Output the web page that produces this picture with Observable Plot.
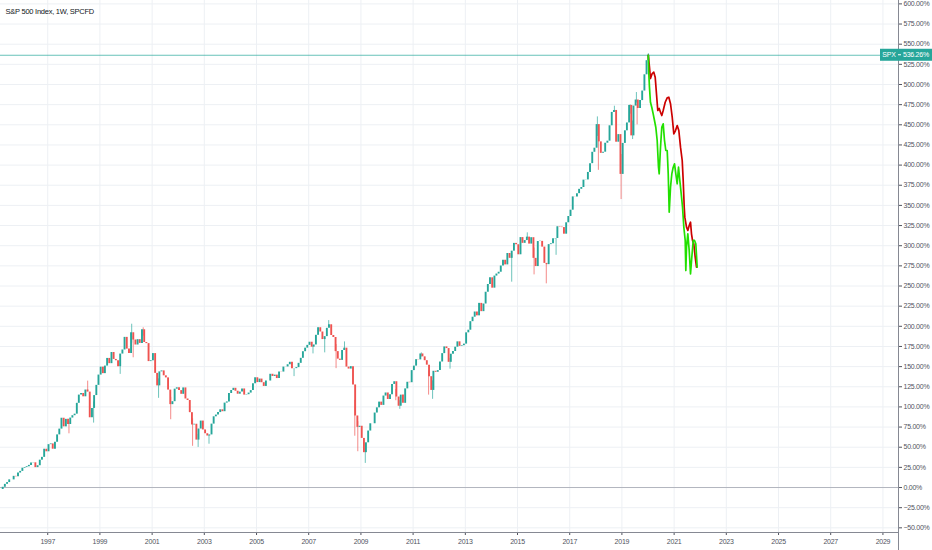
<!DOCTYPE html>
<html><head><meta charset="utf-8">
<script src="https://cdn.jsdelivr.net/npm/d3@7"></script>
<script src="https://cdn.jsdelivr.net/npm/@observablehq/plot@0.6"></script>
<style>body{margin:0;background:#fff}#chart{width:932px;height:550px;overflow:hidden}svg text{letter-spacing:-0.25px}</style>
</head><body><div id="chart"></div>
<script>
// ---- data ----
const title = "S&P 500 Index, 1W, SPCFD";
const symbol = "SPX";
const lastPct = 536.26;          // last value label
const lastClose = 3265.35;       // index close of last bar
const lastDate = "2020-01-08";
const firstMonth = "1995-03-15";
// monthly closes (index points), Mar 1995 .. Dec 2019, then last bar
const monthlyClose = [
  500.71, 514.71, 533.40, 544.75, 562.06, 561.88, 584.41, 581.50, 605.37, 615.93,
  636.02, 640.43, 645.50, 654.17, 669.12, 670.63, 639.95, 651.99, 687.31, 705.27, 757.02, 740.74,
  786.16, 790.82, 757.12, 801.34, 848.28, 885.14, 954.31, 899.47, 947.28, 914.62, 955.40, 970.43,
  980.28, 1049.34, 1101.75, 1111.75, 1090.82, 1133.84, 1120.67, 957.28, 1017.01, 1098.67, 1163.63, 1229.23,
  1279.64, 1238.33, 1286.37, 1335.18, 1301.84, 1372.71, 1328.72, 1320.41, 1282.71, 1362.93, 1388.91, 1469.25,
  1394.46, 1366.42, 1498.58, 1452.43, 1420.60, 1454.60, 1430.83, 1517.68, 1436.51, 1429.40, 1314.95, 1320.28,
  1366.01, 1239.94, 1160.33, 1249.46, 1255.82, 1224.42, 1211.23, 1133.58, 1040.94, 1059.78, 1139.45, 1148.08,
  1130.20, 1106.73, 1147.39, 1076.92, 1067.14, 989.82, 911.62, 916.07, 815.28, 885.76, 936.31, 879.82,
  855.70, 841.15, 848.18, 916.92, 963.59, 974.50, 990.31, 1008.01, 995.97, 1050.71, 1058.20, 1111.92,
  1131.13, 1144.94, 1126.21, 1107.30, 1120.68, 1140.84, 1101.72, 1104.24, 1114.58, 1130.20, 1173.82, 1211.92,
  1181.27, 1203.60, 1180.59, 1156.85, 1191.50, 1191.33, 1234.18, 1220.33, 1228.81, 1207.01, 1249.48, 1248.29,
  1280.08, 1280.66, 1294.87, 1310.61, 1270.09, 1270.20, 1276.66, 1303.82, 1335.85, 1377.94, 1400.63, 1418.30,
  1438.24, 1406.82, 1420.86, 1482.37, 1530.62, 1503.35, 1455.27, 1473.99, 1526.75, 1549.38, 1481.14, 1468.36,
  1378.55, 1330.63, 1322.70, 1385.59, 1400.38, 1280.00, 1267.38, 1282.83, 1166.36, 968.75, 896.24, 903.25,
  825.88, 735.09, 797.87, 872.81, 919.14, 919.32, 987.48, 1020.62, 1057.08, 1036.19, 1095.63, 1115.10,
  1073.87, 1104.49, 1169.43, 1186.69, 1089.41, 1030.71, 1101.60, 1049.33, 1141.20, 1183.26, 1180.55, 1257.64,
  1286.12, 1327.22, 1325.83, 1363.61, 1345.20, 1320.64, 1292.28, 1218.89, 1131.42, 1253.30, 1246.96, 1257.60,
  1312.41, 1365.68, 1408.47, 1397.91, 1310.33, 1362.16, 1379.32, 1406.58, 1440.67, 1412.16, 1416.18, 1426.19,
  1498.11, 1514.68, 1569.19, 1597.57, 1630.74, 1606.28, 1685.73, 1632.97, 1681.55, 1756.54, 1805.81, 1848.36,
  1782.59, 1859.45, 1872.34, 1883.95, 1923.57, 1960.23, 1930.67, 2003.37, 1972.29, 2018.05, 2067.56, 2058.90,
  1994.99, 2104.50, 2067.89, 2085.51, 2107.39, 2063.11, 2103.84, 1972.18, 1920.03, 2079.36, 2080.41, 2043.94,
  1940.24, 1932.23, 2059.74, 2065.30, 2096.95, 2098.86, 2173.60, 2170.95, 2168.27, 2126.15, 2198.81, 2238.83,
  2278.87, 2363.64, 2362.72, 2384.20, 2411.80, 2423.41, 2470.30, 2471.65, 2519.36, 2575.26, 2647.58, 2673.61,
  2823.81, 2713.83, 2640.87, 2648.05, 2705.27, 2718.37, 2816.29, 2901.52, 2913.98, 2711.74, 2760.17, 2506.85,
  2704.10, 2784.49, 2834.40, 2945.83, 2752.06, 2941.76, 2980.38, 2926.46, 2976.74, 3037.56, 3140.98, 3230.78,
  3265.35
];
// intra-month wick extremes [date, index points]
const wickDates = ["1997-10-28","1998-07-17","1998-10-08","1999-10-15","2000-03-24","2000-04-14","2000-09-01","2001-04-04","2001-09-21","2002-07-24","2002-10-10","2003-03-11","2006-06-13","2007-03-05","2007-08-16","2007-10-11","2008-01-22","2008-05-19","2008-10-10","2008-11-21","2009-03-06","2010-05-07","2010-07-02","2011-04-29","2011-08-09","2011-10-04","2012-06-04","2014-10-15","2015-05-21","2015-08-24","2016-02-11","2016-06-27","2018-01-26","2018-02-09","2018-09-21","2018-12-24","2019-04-30","2019-06-03","2019-07-26","2019-08-05","2020-01-09"];
const wickValues = [855.27,1190.58,923.32,1233.7,1552.87,1339.40,1530.09,1081.19,944.75,775.68,768.63,788.90,1219.29,1364.0,1370.6,1576.09,1270.05,1440.24,839.80,741.02,666.79,1065.79,1010.91,1370.58,1101.54,1074.77,1266.74,1820.66,2134.72,1867.01,1810.10,1991.68,2872.87,2532.69,2940.91,2346.58,2949.5,2728.81,3027.98,2822.12,3275.58];
// projections (decimal year, percent)
const redYears = [2020.02,2020.065,2020.103,2020.169,2020.230,2020.284,2020.333,2020.383,2020.437,2020.487,2020.536,2020.590,2020.667,2020.743,2020.805,2020.870,2020.935,2020.996,2021.061,2021.126,2021.188,2021.253,2021.318,2021.356,2021.395,2021.418,2021.483,2021.533,2021.586,2021.636,2021.674,2021.713,2021.762,2021.816,2021.866];
const redPct = [536.3,521.5,507.4,513.6,515.3,509.1,488.5,467.7,470.2,465.6,461.5,467.7,478.0,483.5,484.2,476.1,459.4,438.8,442.9,449.1,442.9,422.2,405.7,380.9,347.8,335.4,323.0,318.9,325.1,329.2,314.8,306.5,302.4,285.7,273.3];
const greenYears = [2020.02,2020.04,2020.065,2020.103,2020.153,2020.207,2020.257,2020.307,2020.360,2020.410,2020.437,2020.487,2020.536,2020.590,2020.640,2020.690,2020.743,2020.782,2020.820,2020.870,2020.920,2020.973,2021.023,2021.073,2021.126,2021.176,2021.226,2021.280,2021.330,2021.380,2021.433,2021.456,2021.483,2021.533,2021.586,2021.636,2021.686,2021.740,2021.790,2021.839,2021.893];
const greenPct = [536.3,513.3,496.7,478.0,471.8,463.6,455.3,447.0,430.5,397.4,389.2,422.2,447.0,451.2,430.5,418.1,418.1,389.2,341.6,372.6,389.2,397.4,401.6,389.2,376.8,397.4,380.9,364.4,347.8,323.0,306.5,269.2,298.1,314.8,294.0,265.1,285.7,306.5,306.5,302.4,273.3];
// axis tick labels
const yTickValues = [-50,-25,0,25,50,75,100,125,150,175,200,225,250,275,300,325,350,375,400,425,450,475,500,525,550,575,600];
const xTickYears = [1997,1999,2001,2003,2005,2007,2009,2011,2013,2015,2017,2019,2021,2023,2025,2027,2029];

// ---- build ----
const UP = "#26a69a", DOWN = "#ef5350";
const FONT = "'Liberation Sans','Arimo',Arial,sans-serif";
const base = lastClose / (1 + lastPct / 100);
const pct = p => (p / base - 1) * 100;
const yr = y => { const Y = Math.floor(y); const s = Date.UTC(Y,0,1), e = Date.UTC(Y+1,0,1); return new Date(s + (y - Y) * (e - s)); };
const start = new Date(firstMonth);
const candles = [];
for (let i = 1; i < monthlyClose.length; i++) {
  const date = i === monthlyClose.length - 1 ? new Date(lastDate) : d3.utcMonth.offset(start, i);
  candles.push({date, open: pct(monthlyClose[i-1]), close: pct(monthlyClose[i])});
}
const wicks = wickDates.map((ds, i) => {
  const date = new Date(ds);
  const c = d3.least(candles, c => Math.abs(c.date - date));
  return {date, y1: pct(wickValues[i]), y2: (c.open + c.close) / 2, up: c.close >= c.open};
});
const red = redYears.map((y, i) => ({date: yr(y), v: redPct[i]}));
const green = greenYears.map((y, i) => ({date: yr(y), v: greenPct[i]}));
const xTicks = xTickYears.map(y => new Date(Date.UTC(y, 0, 4)));

const plot = Plot.plot({
  width: 932, height: 550,
  marginLeft: 0, marginRight: 34, marginTop: 0, marginBottom: 18,
  style: {fontFamily: FONT, fontSize: "7px", color: "#50535e", background: "#fff", overflow: "visible"},
  x: {type: "utc", domain: [yr(1995.2), yr(2029.605)], axis: null},
  y: {domain: [-55.8, 604.2], axis: null},
  marks: [
    Plot.ruleY(yTickValues, {stroke: "#edf0f4", strokeWidth: 1}),
    Plot.ruleX(xTicks, {stroke: "#edf0f4", strokeWidth: 1}),
    Plot.ruleY([0], {stroke: "#b2b5be", strokeWidth: 1}),
    Plot.ruleY([lastPct], {stroke: UP, strokeOpacity: 0.7, strokeWidth: 1}),
    Plot.ruleX(wicks, {x: "date", y1: "y1", y2: "y2", stroke: d => d.up ? UP : DOWN, strokeWidth: 0.8, strokeOpacity: 0.85}),
    Plot.ruleX(candles, {x: "date", y1: "open", y2: "close", stroke: d => d.close >= d.open ? UP : DOWN, strokeWidth: 1.9}),
    Plot.line(red, {x: "date", y: "v", stroke: "#cc0000", strokeWidth: 1.7, curve: "linear"}),
    Plot.line(green, {x: "date", y: "v", stroke: "#22e000", strokeWidth: 1.7, curve: "linear"}),
    Plot.axisY({anchor: "right", ticks: yTickValues, tickFormat: d => d3.format(".2f")(d) + "%", tickSize: 3, tickPadding: 2, fontSize: 7}),
    Plot.axisX({ticks: xTicks, tickFormat: d => d3.utcFormat("%Y")(d), tickSize: 3, tickPadding: 4, fontSize: 7}),
    Plot.text([title], {frameAnchor: "top-left", dx: 5, dy: 11, lineAnchor: "middle", textAnchor: "start", fontSize: 7.5, fill: "#131722"})
  ]
});

// axis lines and last-value label, positioned with the plot's scales
const svg = d3.select(plot);
const xr = plot.scale("x").range[1];
const yb = plot.scale("y").range[0];
svg.append("line").attr("x1", 0).attr("x2", xr).attr("y1", yb + 0.5).attr("y2", yb + 0.5).attr("stroke", "#868993");
svg.append("line").attr("x1", xr + 0.5).attr("x2", xr + 0.5).attr("y1", 0).attr("y2", 550).attr("stroke", "#868993");
const yv = plot.scale("y").apply(lastPct);
const g = svg.append("g").attr("font-family", FONT).attr("font-size", 7);
g.append("rect").attr("x", xr - 18).attr("y", yv - 6).attr("width", 932 - (xr - 18)).attr("height", 12).attr("fill", UP);
g.append("text").attr("x", xr - 9).attr("y", yv).attr("dy", "0.35em").attr("text-anchor", "middle").attr("fill", "#fff").text(symbol);
g.append("line").attr("x1", xr).attr("x2", xr + 3).attr("y1", yv).attr("y2", yv).attr("stroke", "#fff");
g.append("text").attr("x", xr + 5).attr("y", yv).attr("dy", "0.35em").attr("text-anchor", "start").attr("fill", "#fff").text(d3.format(".2f")(lastPct) + "%");

document.getElementById("chart").append(plot);
</script>
</body></html>
